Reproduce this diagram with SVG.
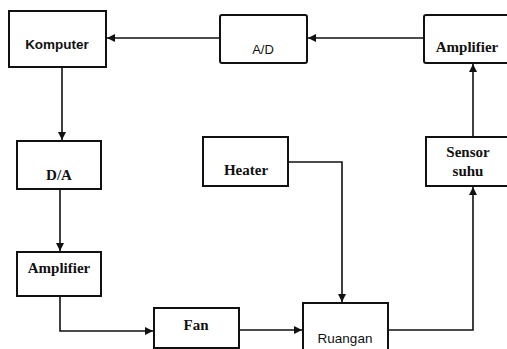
<svg xmlns="http://www.w3.org/2000/svg" width="507" height="349" viewBox="0 0 507 349">
<defs>
<style>
.box{fill:#fff;stroke:#111;stroke-width:2}
.t{font-family:"Liberation Serif",serif;font-size:15px;font-weight:bold;fill:#111;text-anchor:middle}
.s{font-family:"Liberation Sans",sans-serif;font-size:13.5px;fill:#111;text-anchor:middle}
.c{fill:none;stroke:#111;stroke-width:1.6}
</style>
<marker id="ah" viewBox="0 0 10 10" refX="10" refY="5" markerWidth="8" markerHeight="8" markerUnits="userSpaceOnUse" orient="auto">
<path d="M0,0 L10,5 L0,10 Z" fill="#111"/>
</marker>
</defs>
<rect width="507" height="349" fill="#fff"/>
<g id="connectors">
<path class="c" d="M423,38 H308" marker-end="url(#ah)"/>
<path class="c" d="M220,38 H107" marker-end="url(#ah)"/>
<path class="c" d="M62,67 V140" marker-end="url(#ah)"/>
<path class="c" d="M60,189 V251" marker-end="url(#ah)"/>
<path class="c" d="M60,296 V331 H153" marker-end="url(#ah)"/>
<path class="c" d="M239,330 H302" marker-end="url(#ah)"/>
<path class="c" d="M288,162 H342 V302" marker-end="url(#ah)"/>
<path class="c" d="M388,330 H473 V187" marker-end="url(#ah)"/>
<path class="c" d="M473,137 V64" marker-end="url(#ah)"/>
</g>
<g id="komputer"><rect class="box" x="9" y="11" width="97" height="56"/><text class="s" style="font-weight:bold" x="57" y="49">Komputer</text></g>
<g id="ad"><rect class="box" x="220" y="15" width="87" height="48" rx="2"/><text class="s" style="font-size:13px" x="263" y="54">A/D</text></g>
<g id="amplifier-top"><rect class="box" x="424" y="15" width="90" height="48" rx="2"/><text class="t" x="467" y="52">Amplifier</text></g>
<g id="da"><rect class="box" x="17" y="141" width="84" height="48"/><text class="t" x="59" y="180">D/A</text></g>
<g id="heater"><rect class="box" x="203" y="137" width="85" height="49"/><text class="t" x="246" y="175">Heater</text></g>
<g id="sensor-suhu"><rect class="box" x="426" y="137" width="90" height="49"/><text class="t" x="468" y="157">Sensor</text><text class="t" x="468" y="176">suhu</text></g>
<g id="amplifier-bottom"><rect class="box" x="17" y="252" width="84" height="44"/><text class="t" x="59" y="273">Amplifier</text></g>
<g id="fan"><rect class="box" x="154" y="308" width="85" height="40"/><text class="t" x="196" y="330">Fan</text></g>
<g id="ruangan"><rect class="box" x="303" y="303" width="85" height="60"/><text class="s" x="345" y="343">Ruangan</text></g>
</svg>
